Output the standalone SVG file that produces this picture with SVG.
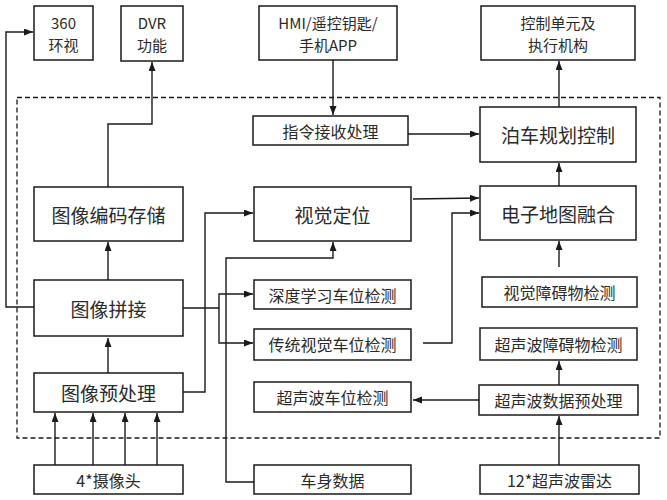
<svg xmlns="http://www.w3.org/2000/svg" width="667" height="500" viewBox="0 0 667 500">
<defs>
<marker id="ah" markerUnits="userSpaceOnUse" markerWidth="10" markerHeight="8" refX="9" refY="3.5" orient="auto">
<path d="M0,0 L9,3.5 L0,7 z" fill="#1a1a1a"/>
</marker>
<style>
.b{fill:#fff;stroke:#1a1a1a;stroke-width:1.5}
.t{font-family:"Noto Sans CJK SC","Noto Sans",sans-serif;fill:#2a2a2a;text-anchor:middle;dominant-baseline:central}
.L{font-size:19px}
.S{font-size:16px}
.M{font-size:15px}
.c{fill:none;stroke:#1a1a1a;stroke-width:1.4}
.a{marker-end:url(#ah)}
</style>
</defs>
<rect width="667" height="500" fill="#fff"/>
<rect x="17" y="97.5" width="643" height="340.5" fill="none" stroke="#1a1a1a" stroke-width="1.3" stroke-dasharray="5,3"/>

<g id="connectors">
<path class="c a" d="M34,307 H6 V32 H33"/>
<path class="c a" d="M108,187 V124 H152 V62"/>
<path class="c a" d="M108,280 V242"/>
<path class="c a" d="M108,373 V338"/>
<path class="c a" d="M55,465 V413"/>
<path class="c a" d="M93,465 V413"/>
<path class="c a" d="M125,465 V413"/>
<path class="c a" d="M157,465 V413"/>
<path class="c a" d="M183,392 H205 V213 H253"/>
<path class="c a" d="M183,308 H219 V294 H253"/>
<path class="c a" d="M219,308 V343 H253"/>
<path class="c a" d="M254,482 H226 V258 H333 V242"/>
<path class="c a" d="M333,60 V115"/>
<path class="c a" d="M408,134 H479"/>
<path class="c a" d="M413,199 L479,198"/>
<path class="c a" d="M423,343 H452 V213 H479"/>
<path class="c a" d="M559,186 V163"/>
<path class="c a" d="M559,107 V61"/>
<path class="c a" d="M559,267 V241"/>
<path class="c a" d="M559,385 V361"/>
<path class="c a" d="M479,400 H413"/>
<path class="c a" d="M559,465 V416"/>
</g>

<g id="n360"><rect class="b" x="34" y="6" width="59" height="54"/><text class="t M" x="63.5" y="22">360</text><text class="t M" x="63.5" y="44">环视</text></g>
<g id="ndvr"><rect class="b" x="121" y="6" width="62" height="55"/><text class="t M" x="152" y="22">DVR</text><text class="t M" x="152" y="44">功能</text></g>
<g id="nhmi"><rect class="b" x="259" y="6" width="138" height="54"/><text class="t M" x="328" y="22">HMI/遥控钥匙/</text><text class="t M" x="328" y="44">手机APP</text></g>
<g id="nctrl"><rect class="b" x="481" y="6" width="154" height="54"/><text class="t M" x="558" y="22">控制单元及</text><text class="t M" x="558" y="44">执行机构</text></g>
<g id="ncmd"><rect class="b" x="253" y="116" width="155" height="29"/><text class="t S" x="330.5" y="131">指令接收处理</text></g>
<g id="npark"><rect class="b" x="480" y="107" width="156" height="55"/><text class="t L" x="558" y="134">泊车规划控制</text></g>
<g id="nenc"><rect class="b" x="34" y="187" width="149" height="54"/><text class="t L" x="108.5" y="214">图像编码存储</text></g>
<g id="nvloc"><rect class="b" x="254" y="187" width="157" height="54"/><text class="t L" x="332.5" y="214">视觉定位</text></g>
<g id="nmap"><rect class="b" x="480" y="186" width="156" height="54"/><text class="t L" x="558" y="213">电子地图融合</text></g>
<g id="nstitch"><rect class="b" x="34" y="280" width="149" height="56"/><text class="t L" x="108.5" y="308">图像拼接</text></g>
<g id="ndl"><rect class="b" x="254" y="280" width="157" height="29"/><text class="t S" x="332.5" y="294.5">深度学习车位检测</text></g>
<g id="nvobs"><rect class="b" x="482" y="277" width="155" height="30"/><text class="t S" x="559.5" y="292">视觉障碍物检测</text></g>
<g id="ntrad"><rect class="b" x="254" y="329" width="157" height="31"/><text class="t S" x="332.5" y="344">传统视觉车位检测</text></g>
<g id="nuobs"><rect class="b" x="480" y="328" width="157" height="32"/><text class="t S" x="558.5" y="344">超声波障碍物检测</text></g>
<g id="npre"><rect class="b" x="34" y="373" width="149" height="39"/><text class="t L" x="108.5" y="392.5">图像预处理</text></g>
<g id="nupark"><rect class="b" x="254" y="382" width="157" height="30"/><text class="t S" x="332.5" y="397">超声波车位检测</text></g>
<g id="nupre"><rect class="b" x="479" y="385" width="159" height="30"/><text class="t S" x="558.5" y="400">超声波数据预处理</text></g>
<g id="ncam"><rect class="b" x="34" y="465" width="149" height="29"/><text class="t S" x="108.5" y="479.5">4*摄像头</text></g>
<g id="nbody"><rect class="b" x="254" y="465" width="157" height="29"/><text class="t S" x="332.5" y="479.5">车身数据</text></g>
<g id="nradar"><rect class="b" x="480" y="465" width="159" height="29"/><text class="t S" x="559.5" y="479.5">12*超声波雷达</text></g>
</svg>
